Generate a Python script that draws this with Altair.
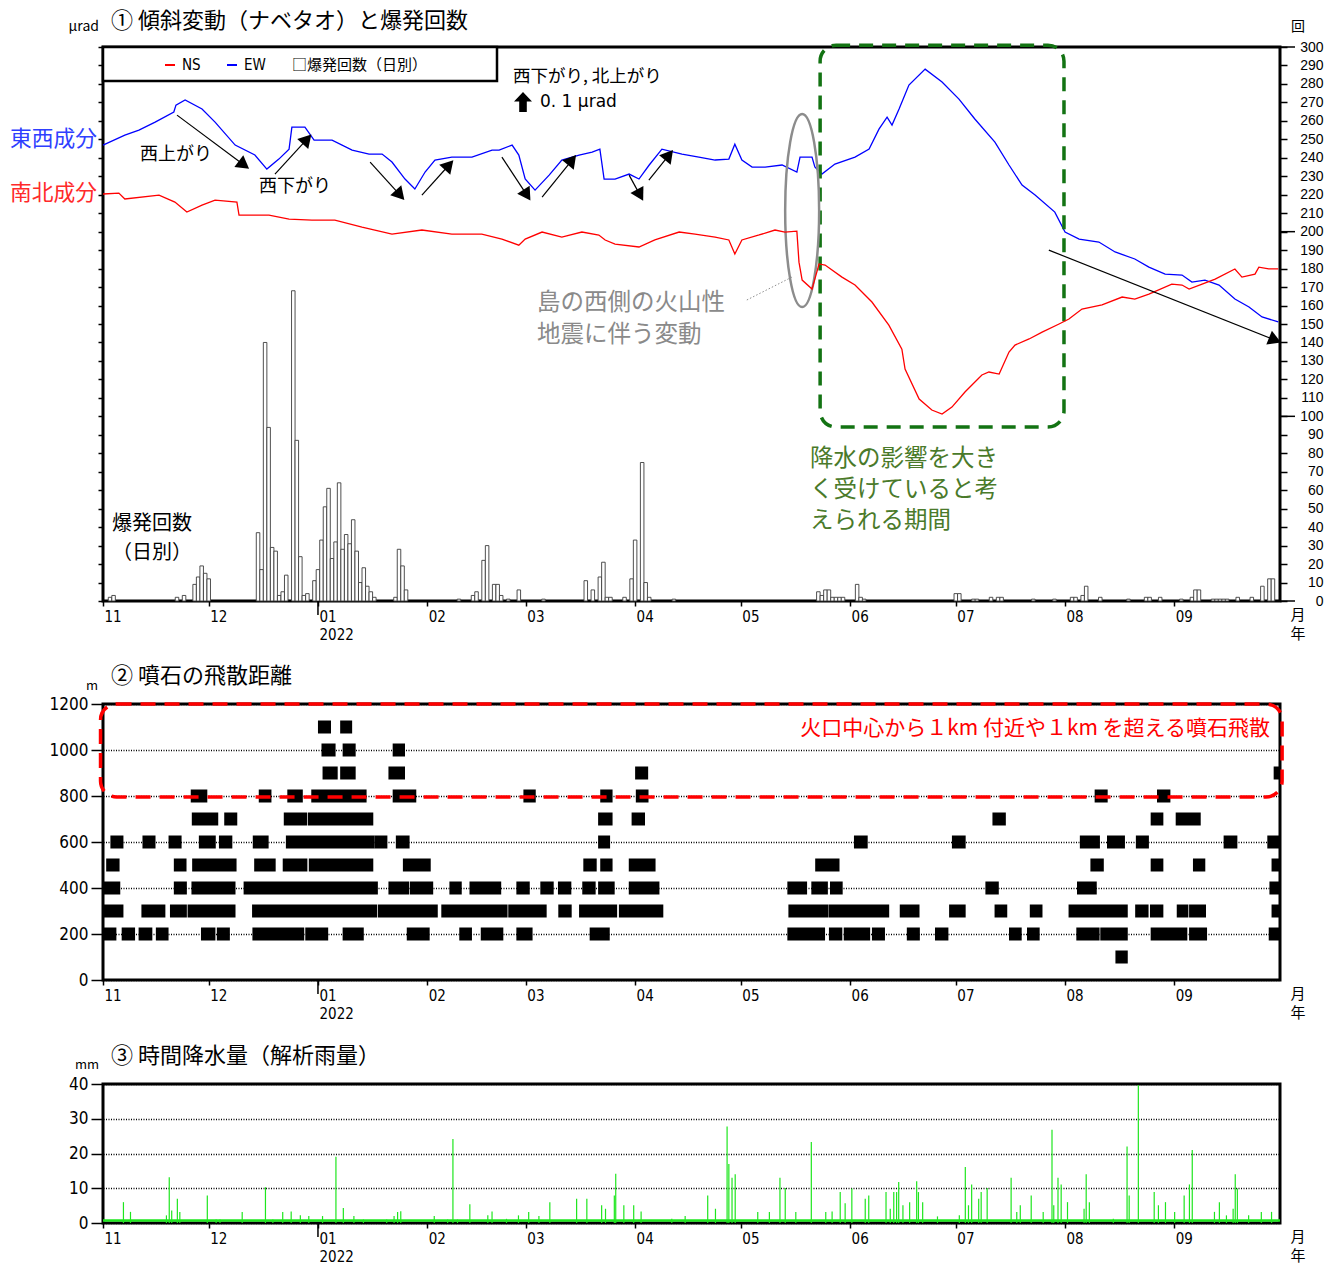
import altair as alt
import pandas as pd

# ---------------- axes / categories ----------------
MONTH_DAYS = [0, 30, 61, 92, 120, 151, 181, 212, 242, 273, 304]   # days since 2021-11-01
MONTH_LABELS = ["11", "12", "01", "02", "03", "04", "05", "06", "07", "08", "09"]
YEAR_LABEL = "2022"
YEAR_START_DAY = [61]
X_END = 334  # 2022-10-01
COUNT_TICKS = list(range(0, 301, 10))
COUNT_MAJOR = [0, 100, 200, 300]
ROCK_TICKS = [0, 200, 400, 600, 800, 1000, 1200]
RAIN_TICKS = [0, 10, 20, 30, 40]

# ---------------- panel 1 : tilt (EW / NS) ----------------
ew_day = [0, 6.2, 10.2, 14.8, 20.1, 20.7, 23.3, 28.1, 31.8, 37.5, 43.1, 46.5, 49.9, 52.8, 53.6, 57.3,
          59.9, 65.0, 70.7, 75.5, 79.2, 82.0, 85.7, 88.5, 91.4, 94.2, 99.0, 104.7, 110.4, 112.4, 116.1,
          118.0, 119.8, 122.6, 126.6, 130.2, 135.1, 138.8, 141.0, 142.2, 145.3, 149.3, 152.1, 155.0,
          158.6, 164.3, 169.1, 173.7, 177.6, 179.3, 181.3, 184.2, 187.9, 192.7, 196.9, 197.8, 201.2,
          202.0, 204.0, 207.7, 213.4, 217.4, 220.2, 222.5, 223.9, 225.9, 228.7, 233.3, 238.1, 242.9,
          247.4, 253.1, 257.1, 260.8, 264.5, 270.1, 273.0, 277.0, 282.6, 287.2, 292.8, 296.8, 301.4,
          306.2, 309.0, 312.7, 316.7, 321.2, 325.2, 328.9, 333.5]
ew_val = [246.9, 252.3, 255.0, 259.3, 264.8, 268.5, 271.3, 266.4, 259.3, 246.9, 241.5, 233.9, 239.3,
          244.7, 256.6, 256.6, 249.6, 249.6, 244.2, 242.0, 242.0, 237.7, 228.5, 223.1, 232.3, 238.8,
          240.4, 240.4, 244.2, 244.2, 246.9, 241.5, 228.5, 222.5, 230.6, 238.8, 241.5, 243.1, 244.7,
          228.5, 228.5, 231.2, 228.5, 236.1, 244.7, 242.0, 240.4, 238.8, 239.3, 247.4, 238.8, 235.0,
          235.0, 236.1, 232.3, 240.4, 240.4, 235.0, 231.2, 236.6, 240.4, 244.7, 255.5, 262.0, 257.7,
          266.4, 279.4, 288.0, 281.0, 271.8, 261.0, 248.5, 236.1, 225.2, 219.8, 210.6, 199.8, 196.0,
          194.4, 189.0, 185.2, 180.8, 177.0, 176.5, 172.7, 173.8, 171.1, 163.5, 159.2, 153.8, 151.1]
ns_day = [0, 4.5, 6.2, 15.9, 20.4, 23.8, 28.1, 31.8, 38.0, 38.6, 47.1, 52.8, 59.3, 65.8, 73.5, 82.0,
          90.5, 99.0, 107.5, 113.2, 118.0, 119.8, 124.6, 130.2, 135.9, 140.7, 142.5, 145.3, 152.1,
          156.6, 163.5, 168.0, 173.7, 177.6, 179.3, 181.3, 186.2, 190.7, 193.5, 196.9, 197.5, 198.4,
          201.2, 203.2, 204.9, 209.7, 213.4, 218.2, 223.0, 226.7, 227.6, 231.6, 235.2, 238.1, 240.9,
          244.6, 249.4, 251.4, 254.3, 257.1, 258.8, 262.8, 266.5, 271.3, 274.1, 277.8, 283.5, 289.2,
          292.8, 296.8, 303.3, 306.2, 308.2, 311.9, 315.6, 321.2, 323.2, 326.9, 328.0, 330.8, 333.5]
ns_val = [220.4, 220.9, 217.7, 219.8, 216.0, 210.6, 214.4, 217.1, 216.0, 209.0, 209.0, 206.8, 206.3,
          206.3, 202.5, 198.7, 200.9, 198.7, 198.7, 196.0, 192.7, 196.0, 199.8, 197.1, 199.8, 198.2,
          195.5, 193.3, 191.7, 195.5, 199.8, 198.7, 197.1, 195.5, 187.9, 195.5, 198.2, 200.9, 199.8,
          200.3, 183.5, 173.8, 168.9, 182.5, 181.9, 175.4, 171.1, 161.9, 149.4, 136.4, 125.6, 109.4,
          103.4, 101.2, 105.0, 113.2, 122.4, 124.0, 122.9, 134.8, 138.6, 141.9, 145.6, 150.0, 152.7,
          158.1, 160.3, 164.6, 163.5, 166.2, 171.6, 171.1, 168.9, 171.6, 174.3, 179.8, 175.4, 177.0,
          180.8, 179.8, 179.8]

# daily explosion counts
expl_day = [2, 3, 21, 23, 26, 27, 28, 29, 30, 44, 45, 46, 47, 48, 49, 50, 51, 52, 54, 55, 56, 57, 58,
            60, 61, 62, 63, 64, 65, 66, 67, 68, 69, 70, 71, 72, 73, 74, 75, 76, 77, 83, 84, 85, 86,
            101, 105, 106, 108, 109, 111, 112, 113, 115, 118, 125, 137, 139, 141, 142, 143, 144, 148,
            150, 151, 153, 154, 155, 162, 203, 204, 205, 206, 207, 208, 209, 210, 214, 215, 216, 242,
            243, 247, 248, 252, 254, 255, 264, 270, 275, 276, 278, 279, 283, 291, 296, 297, 300, 306,
            309, 310, 311, 315, 316, 317, 318, 319, 322, 326, 329, 331, 332]
expl_count = [2, 3, 2, 3, 9, 13, 19, 15, 12, 37, 17, 140, 94, 29, 27, 3, 5, 14, 168, 87, 24, 3, 4,
              11, 17, 33, 51, 61, 23, 32, 64, 28, 36, 31, 44, 27, 10, 18, 8, 5, 2, 2, 28, 19, 6,
              1, 3, 5, 22, 30, 9, 9, 3, 1, 6, 1, 11, 6, 13, 21, 2, 2, 2, 12, 33, 75, 10, 2, 1,
              5, 3, 6, 6, 2, 2, 2, 2, 9, 2, 1, 4, 4, 1, 1, 2, 2, 2, 1, 1, 2, 2, 3, 8, 2, 1, 2, 2, 2,
              1, 2, 6, 6, 1, 1, 1, 1, 1, 2, 2, 8, 12, 12]

# annotation arrows: (day0, value0, day1, value1, head angle in degrees)
ARROWS = [(21.0, 263.1, 40.0, 236.1, 127), (48.8, 231.2, 57.9, 250.1, 42),
          (75.8, 237.7, 84.3, 219.8, 138), (90.5, 219.8, 98.2, 236.1, 42),
          (113.2, 240.4, 120.3, 219.8, 147), (124.6, 218.7, 133.1, 238.8, 39),
          (149.3, 230.6, 152.4, 219.8, 151), (154.9, 227.9, 160.6, 241.5, 39),
          (268.4, 190.0, 332.6, 141.3, 112)]

# ---------------- panel 2 : ballistic rock distance (runs of daily markers: start day, end day) ----
ROCK_1100 = [(61.0, 64.7), (67.3, 70.7)]
ROCK_1000 = [(62.0, 66.0), (68.0, 71.7), (82.2, 85.7)]
ROCK_900 = [(62.3, 66.6), (67.3, 71.7), (81.0, 85.7), (151.0, 154.7), (332.2, 335.5)]
ROCK_800 = [(24.9, 29.6), (44.2, 47.8), (52.3, 56.7), (59.1, 74.8), (82.2, 88.9), (119.3, 122.8),
            (141.1, 144.6), (151.2, 154.8), (281.4, 285.1), (299.1, 302.9)]
ROCK_700 = [(25.2, 32.7), (34.4, 38.1), (51.3, 57.9), (58.1, 76.7), (140.5, 144.6), (150.0, 153.8),
            (252.4, 256.2), (297.3, 300.9), (304.4, 311.5)]
ROCK_600 = [(2.1, 5.8), (11.2, 14.9), (18.6, 22.3), (27.2, 32.0), (32.9, 36.7), (42.5, 47.0),
            (51.9, 77.1), (77.1, 80.7), (83.1, 87.0), (140.5, 143.9), (213.1, 217.0), (240.9, 244.8),
            (277.2, 282.9), (284.9, 290.0), (293.1, 296.8), (318.0, 321.9), (330.4, 335.5)]
ROCK_500 = [(0.9, 4.7), (20.1, 23.7), (25.3, 37.9), (42.9, 49.0), (51.0, 58.0), (58.4, 76.7),
            (85.1, 93.0), (136.3, 140.1), (141.1, 144.6), (149.2, 156.8), (202.1, 209.0),
            (280.2, 284.0), (297.3, 300.9), (309.3, 312.8), (331.6, 335.5)]
ROCK_400 = [(0.2, 4.9), (20.1, 23.8), (25.1, 37.6), (39.9, 78.0), (81.0, 86.9), (87.1, 93.7),
            (98.3, 101.8), (104.0, 113.0), (117.3, 121.1), (124.1, 127.9), (129.1, 132.9),
            (136.0, 139.8), (140.5, 145.2), (149.2, 157.9), (194.2, 199.8), (201.0, 205.7),
            (206.3, 209.9), (250.4, 254.2), (276.4, 282.0), (331.0, 335.5)]
ROCK_300 = [(0.2, 5.8), (10.9, 17.7), (19.0, 23.8), (24.0, 37.6), (42.3, 77.8), (78.0, 95.0),
            (96.0, 114.8), (115.0, 125.9), (129.2, 133.0), (135.1, 145.9), (146.4, 159.0),
            (194.5, 205.9), (206.0, 223.1), (226.1, 231.7), (240.1, 244.8), (253.0, 256.6),
            (263.0, 266.6), (274.0, 290.8), (292.9, 296.7), (297.1, 300.9), (304.7, 308.0),
            (308.2, 313.0), (331.6, 335.5)]
ROCK_200 = [(0.2, 3.8), (5.3, 9.1), (10.1, 14.0), (15.0, 18.6), (27.8, 31.9), (32.3, 36.0),
            (42.4, 57.1), (57.4, 63.9), (68.0, 74.0), (86.2, 92.7), (101.1, 104.7), (107.2, 113.6),
            (117.3, 121.9), (138.1, 143.8), (194.2, 204.9), (206.0, 209.8), (210.2, 217.7),
            (218.2, 221.9), (228.1, 231.8), (236.1, 239.9), (257.1, 260.7), (262.2, 265.8),
            (276.2, 282.8), (283.0, 290.8), (297.3, 307.7), (308.2, 313.3), (330.8, 335.5)]
ROCK_100 = [(287.3, 290.8)]

# ---------------- panel 3 : hourly rainfall spikes (day, mm) ----------------
RAIN = [(5.8, 6.0), (7.8, 3.2), (18.0, 2.2), (18.8, 13.2), (19.5, 3.6), (21.1, 7.0), (21.8, 3.2),
        (29.6, 7.9), (32.1, 1), (33.2, 1), (39.5, 3.2), (46.1, 10.3), (48.2, 1), (51.0, 3.2),
        (53.4, 3.3), (56.0, 2.2), (58.4, 2), (62.3, 2), (66.1, 19.1), (68.2, 4.3), (71.2, 2),
        (73.9, 1), (80.5, 1), (82.6, 2), (83.6, 3.2), (84.5, 3.4), (94.0, 2), (97.8, 1), (99.3, 24.2),
        (100.6, 1), (104.1, 5.4), (109.2, 2.2), (110.4, 3.3), (114.5, 1.2), (117.9, 2.2), (120.8, 3.2),
        (123.7, 2), (126.8, 6), (134.4, 7), (137.3, 7), (141.5, 5.1), (142.6, 4.1), (145.1, 7.9),
        (145.5, 14.2), (147.8, 5.1), (150.6, 5.1), (152.7, 3.3), (161.4, 1.2), (165.2, 2),
        (171.6, 7.9), (173.8, 4.1), (177.1, 27.8), (177.6, 17), (178.5, 13), (179.4, 14), (185.8, 3.2),
        (189.1, 3.2), (192.1, 13), (193.6, 10.1), (196.6, 3.2), (201.0, 23.3), (205.1, 3.2),
        (206.9, 3.3), (209.2, 8.9), (210.6, 5.7), (212.5, 9.9), (216.3, 7), (217.3, 7.9), (222.2, 8.9),
        (223.4, 4.1), (224.4, 8.9), (225.2, 8.9), (225.8, 11.8), (227.0, 5.1), (228.9, 6), (230.9, 12),
        (231.4, 8.9), (232.6, 6), (236.8, 1.9), (243.0, 2.2), (244.7, 16.1), (245.6, 5.1),
        (246.5, 11.1), (248.5, 7), (249.2, 8.9), (250.9, 10.1), (257.7, 13), (259.3, 3.2),
        (260.3, 5.1), (263.4, 7.9), (266.8, 3.2), (269.3, 26.8), (269.8, 5.1), (271.0, 13),
        (271.9, 11.1), (273.7, 6), (278.4, 4.1), (279.0, 14), (279.9, 6), (286.7, 1.2), (290.6, 22),
        (291.2, 7.9), (293.8, 39.7), (298.3, 8.9), (299.5, 5.1), (301.5, 6), (304.1, 3.2),
        (306.8, 7.9), (308.3, 11.1), (309.1, 21), (315.4, 3.2), (316.8, 6), (318.8, 2.2), (320.7, 4.1),
        (321.3, 14), (321.9, 9.9), (325.1, 2.2), (328.7, 3.2), (331.6, 3.2)]

# ---------------- styling ----------------
W, H1, H2, H3 = 1177, 554, 276, 139
JP = "Noto Sans CJK JP"
NARROW = "Liberation Sans Narrow, DejaVu Sans Condensed, sans-serif"
ARIAL = "Liberation Sans, Arial, sans-serif"
GREEN_RAIN = "#1ee61e"
ONE = pd.DataFrame({"k": [0]})

label_expr = ("datum.value == 61 ? ['01', '" + YEAR_LABEL + "'] : "
              + str(MONTH_LABELS) + "[indexof(" + str(MONTH_DAYS) + ", datum.value)]")
xscale = alt.Scale(domain=[0, X_END], nice=False, zero=False)

XAXIS = alt.Axis(values=MONTH_DAYS, labelExpr=label_expr, labelAlign="left", labelBaseline="top",
                 labelOffset=1, labelPadding=3, labelFont=NARROW, labelFontSize=15,
                 labelColor="black", labelLineHeight=18, labelFlush=False, labelOverlap=False,
                 tickSize=5, tickColor="black", tickWidth=1.5, domain=False, grid=False, title=None)


def X(field):
    return alt.X(field, type="quantitative", scale=xscale, axis=XAXIS)


def text_layer(s, x, y, size, color="black", font=JP, align="left"):
    return alt.Chart(ONE).mark_text(text=s, font=font, fontSize=size, color=color, align=align,
                                    baseline="middle").encode(x=alt.value(x), y=alt.value(y))


def pix_rule(x0, x1, y0, y1, color, width, opacity=1):
    return alt.Chart(ONE).mark_rule(color=color, strokeWidth=width, strokeOpacity=opacity).encode(
        x=alt.value(x0), x2=alt.value(x1), y=alt.value(y0), y2=alt.value(y1))


def spacer(h, extra):
    return pix_rule(W / 2, W / 2, h, h + extra, "white", 1, opacity=0)


def year_tick(h):
    return alt.Chart(pd.DataFrame({"day": YEAR_START_DAY})).mark_rule(
        color="black", strokeWidth=1.5).encode(x=X("day"), y=alt.value(h), y2=alt.value(h + 14))


def month_year_marks(h):
    return [text_layer("月", 1195, h + 14, 15, align="center"),
            text_layer("年", 1195, h + 33, 15, align="center")]


# ================= panel 1 =================
y1scale = alt.Scale(domain=[0, 300], nice=False, zero=True)
LEFT_AXIS = alt.Axis(orient="left", values=COUNT_TICKS, labels=False, tickSize=5, tickWidth=1.5,
                     tickColor="black", domain=False, grid=False, title=None)
RIGHT_AXIS = alt.Axis(orient="right", values=COUNT_TICKS, tickSize=7, tickWidth=1.5, tickColor="black",
                      labelAlign="right", labelPadding=36, labelFont=ARIAL, labelFontSize=14,
                      labelColor="black", labelBaseline="middle", labelFlush=False, labelOverlap=False,
                      domain=False, grid=False, title=None)


def YL(field):
    return alt.Y(field, type="quantitative", scale=y1scale, axis=LEFT_AXIS)


def YR(field):
    return alt.Y(field, type="quantitative", scale=y1scale, axis=RIGHT_AXIS)


df_ew = pd.DataFrame({"day": ew_day, "v": ew_val})
df_ns = pd.DataFrame({"day": ns_day, "v": ns_val})
df_expl = pd.DataFrame({"day": expl_day, "n": expl_count})
df_expl["d0"] = df_expl["day"] - 0.5
df_expl["d1"] = df_expl["day"] + 0.5
df_arrows = pd.DataFrame(ARROWS, columns=["x0", "y0", "x1", "y1", "ang"])

bars = alt.Chart(df_expl).mark_rect(fill="white", stroke="#3c3c3c", strokeWidth=0.9).encode(
    x=X("d0"), x2="d1", y=YR("n"), y2=alt.datum(0))
major_ticks = alt.Chart(pd.DataFrame({"v": COUNT_MAJOR})).mark_rule(color="black", strokeWidth=1.5).encode(
    x=alt.value(W), x2=alt.value(W + 15), y=YR("v"))
bars_group = alt.layer(bars, major_ticks)

ew_line = alt.Chart(df_ew).mark_line(color="#0000ff", strokeWidth=1.3).encode(x=X("day"), y=YL("v"))
ns_line = alt.Chart(df_ns).mark_line(color="#ff0000", strokeWidth=1.3).encode(x=X("day"), y=YL("v"))

arrow_rules = alt.Chart(df_arrows).mark_rule(color="black", strokeWidth=1.2).encode(
    x=X("x0"), x2="x1", y=YL("y0"), y2="y1")
arrow_heads = alt.Chart(df_arrows).mark_point(shape="triangle-up", filled=True, color="black",
                                              size=220, opacity=1).encode(
    x=X("x1"), y=YL("y1"), angle=alt.Angle("ang:Q", scale=None))

ELLIPSE = ("M0,-1C0.0972,-1 0.176,-0.5523 0.176,0C0.176,0.5523 0.0972,1 0,1"
           "C-0.0972,1 -0.176,0.5523 -0.176,0C-0.176,-0.5523 -0.0972,-1 0,-1Z")
ellipse = alt.Chart(pd.DataFrame({"day": [198.4], "v": [211.4]})).mark_point(
    shape=ELLIPSE, size=37249, filled=False, color="#8c8c8c", strokeWidth=2.5, opacity=1).encode(
    x=X("day"), y=YL("v"))
leader = alt.Chart(pd.DataFrame({"x0": [182.7], "x1": [195.5], "y0": [163.0], "y1": [175.4]})).mark_rule(
    color="#8c8c8c", strokeWidth=1, strokeDash=[1.5, 2]).encode(x=X("x0"), x2="x1", y=YL("y0"), y2="y1")
green_box = alt.Chart(pd.DataFrame({"x0": [203.5], "x1": [272.7], "y0": [94.2], "y1": [301]})).mark_rect(
    fillOpacity=0, stroke="#137313", strokeWidth=3.5, strokeDash=[14, 9], cornerRadius=16).encode(
    x=X("x0"), x2="x1", y=YL("y0"), y2="y1")

legend_box = alt.Chart(ONE).mark_rect(fill="white", stroke="black", strokeWidth=2.5).encode(
    x=alt.value(0), x2=alt.value(394), y=alt.value(0), y2=alt.value(34))
UP_ARROW = "M0,-1L0.9,-0.05L0.38,-0.05L0.38,1L-0.38,1L-0.38,-0.05L-0.9,-0.05Z"
up_arrow = alt.Chart(ONE).mark_point(shape=UP_ARROW, size=400, filled=True, color="black",
                                     opacity=1).encode(x=alt.value(420), y=alt.value(55))

p1_texts = [
    text_layer("① 傾斜変動（ナベタオ）と爆発回数", 8, -26, 22),
    text_layer("μrad", -4, -20, 14, align="right"),
    text_layer("回", 1195, -20, 14, align="center"),
    text_layer("東西成分", -6, 92, 21.75, color="#2f3fff", align="right"),
    text_layer("南北成分", -6, 146, 21.75, color="#ff2a2a", align="right"),
    text_layer("西上がり", 37, 108, 18),
    text_layer("西下がり", 156, 140, 18),
    text_layer("NS", 79, 18, 15, font=NARROW),
    text_layer("EW", 141, 18, 15, font=NARROW),
    text_layer("□爆発回数（日別）", 189, 18, 15),
    text_layer("西下がり, 北上がり", 410, 30, 17.5),
    text_layer("0. 1 μrad", 437, 55, 17, font="DejaVu Sans"),
    text_layer("島の西側の火山性", 434, 256, 23.5, color="#8a8a8a"),
    text_layer("地震に伴う変動", 434, 288, 23.5, color="#8a8a8a"),
    text_layer("降水の影響を大き", 707, 412, 23.5, color="#4a7a2a"),
    text_layer("く受けていると考", 707, 443, 23.5, color="#4a7a2a"),
    text_layer("えられる期間", 707, 474, 23.5, color="#4a7a2a"),
    text_layer("爆発回数", 9, 477, 20),
    text_layer("（日別）", 9, 506, 20),
] + month_year_marks(H1)
lines_group = alt.layer(
    ew_line, green_box, ellipse, leader, ns_line, arrow_rules, arrow_heads, year_tick(H1), legend_box,
    pix_rule(62, 72, 18, 18, "#ff0000", 2), pix_rule(124, 134, 18, 18, "#0000ff", 2),
    up_arrow, spacer(H1, 44), *p1_texts)

p1 = alt.layer(bars_group, lines_group).resolve_scale(y="independent").properties(width=W, height=H1)

# ================= panel 2 =================
rows = []
for lvl, runs in [(1100, ROCK_1100), (1000, ROCK_1000), (900, ROCK_900), (800, ROCK_800),
                  (700, ROCK_700), (600, ROCK_600), (500, ROCK_500), (400, ROCK_400),
                  (300, ROCK_300), (200, ROCK_200), (100, ROCK_100)]:
    for s, e in runs:
        rows.append({"lvl": lvl, "s": s, "e": e})
df_rock = pd.DataFrame(rows)

y2scale = alt.Scale(domain=[0, 1200], nice=False, zero=True, padding=0)
Y2AXIS = alt.Axis(values=ROCK_TICKS, format="d", tickSize=12, tickWidth=1.5, tickColor="black",
                  labelFont=NARROW, labelFontSize=17, labelColor="black", labelPadding=3,
                  labelFlush=False, grid=True, gridDash=[1, 1.5], gridColor="black", gridWidth=1.3,
                  domain=False, title=None)


def Y2(field):
    return alt.Y(field, type="quantitative", scale=y2scale, axis=Y2AXIS)


squares = alt.Chart(df_rock).mark_bar(size=13, color="black", clip=True).encode(
    x=X("s"), x2="e", y=Y2("lvl"))
red_box = alt.Chart(pd.DataFrame({"x0": [-0.7], "x1": [334.6], "y0": [796], "y1": [1200]})).mark_rect(
    fillOpacity=0, stroke="#ff0000", strokeWidth=3.5, strokeDash=[15, 9], cornerRadius=16).encode(
    x=X("x0"), x2="x1", y=Y2("y0"), y2="y1")
p2 = alt.layer(
    squares, red_box, year_tick(H2), spacer(H2, 45),
    text_layer("② 噴石の飛散距離", 8, -28, 22),
    text_layer("m", -5, -18, 13, align="right"),
    text_layer("火口中心から１km 付近や１km を超える噴石飛散", 1167, 25, 21, color="#ff0000", align="right"),
    *month_year_marks(H2),
).properties(width=W, height=H2)

# ================= panel 3 =================
df_rain = pd.DataFrame(RAIN, columns=["day", "mm"])
y3scale = alt.Scale(domain=[0, 40], nice=False, zero=True, padding=0)
Y3AXIS = alt.Axis(values=RAIN_TICKS, tickSize=12, tickWidth=1.5, tickColor="black", labelFont=NARROW,
                  labelFontSize=17, labelColor="black", labelPadding=3, labelFlush=False,
                  grid=True, gridDash=[1, 1.5], gridColor="black", gridWidth=1.3,
                  domain=False, title=None)
spikes = alt.Chart(df_rain).mark_rule(color=GREEN_RAIN, strokeWidth=1.2).encode(
    x=X("day"), y=alt.Y("mm:Q", scale=y3scale, axis=Y3AXIS), y2=alt.datum(0))
p3 = alt.layer(
    spikes, year_tick(H3),
    pix_rule(0, W, H3 - 2.5, H3 - 2.5, GREEN_RAIN, 2.5),
    text_layer("③ 時間降水量（解析雨量）", 8, -28, 22),
    text_layer("mm", -4, -19, 13, align="right"),
    *month_year_marks(H3),
).properties(width=W, height=H3)

chart = alt.vconcat(p1, p2, p3, spacing=16).properties(
    padding=0, background="white"
).configure_view(stroke="black", strokeWidth=3)

chart.save("out.html", embed_options={"renderer": "svg", "actions": False})
